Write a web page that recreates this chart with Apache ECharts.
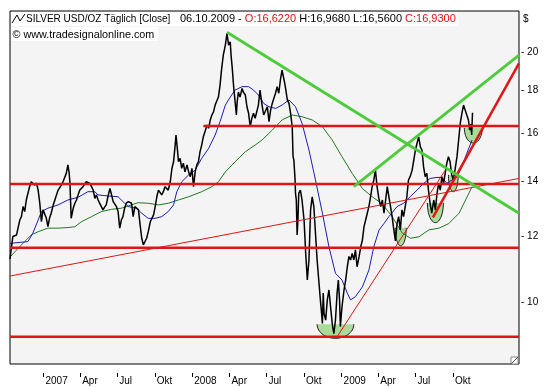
<!DOCTYPE html>
<html><head><meta charset="utf-8">
<script src="https://cdn.jsdelivr.net/npm/echarts@6/dist/echarts.min.js"></script>
<style>html,body{margin:0;padding:0;background:#fff}#c{width:544px;height:388px}</style>
</head><body><div id="c"></div>
<script>
// x values are days counted from 1 Jan 2007
const xTickDays = [0,90,181,273,365,456,547,639,731,821,912,1004];
const xTickLabels = ['2007','Apr','Jul','Okt','2008','Apr','Jul','Okt','2009','Apr','Jul','Okt'];
const yTicks = [10,12,14,16,18,20];
const xMin = -82, xMax = 1166;
const yMin = 8.417, yMax = 22.46;

const closeDays = [-82,-75,-66,-58,-54,-50,-46,-42,-38,-34,-30,-26,-21,-17,-13,-9,-5,-1,3,7,11,15,19,24,28,32,36,40,44,48,52,56,60,63,65,68,73,77,81,85,89,93,97,101,105,109,114,118,122,126,130,134,138,142,146,150,154,158,163,167,171,175,179,183,187,191,195,199,203,208,212,216,220,224,228,233,237,241,245,249,253,257,262,266,270,274,278,282,286,290,294,298,302,306,311,315,319,323,325,329,331,335,339,343,347,352,356,360,364,368,372,376,380,384,388,392,396,401,405,409,413,417,421,425,429,433,437,441,446,450,454,458,460,463,466,470,473,475,478,482,487,490,495,499,503,507,511,515,519,523,527,531,536,540,544,549,553,557,561,565,569,573,577,581,585,590,593,598,602,606,610,612,614,617,618,620,622,624,626,630,634,639,643,647,651,655,659,663,666,669,671,675,679,682,684,686,688,692,696,700,704,708,712,716,720,723,726,728,732,737,741,745,749,753,757,761,765,769,774,778,782,786,790,794,798,802,806,810,814,818,823,827,831,835,839,843,847,851,855,858,863,867,871,875,879,883,887,891,895,899,904,908,912,916,920,924,928,932,936,940,944,948,952,957,961,965,969,973,977,981,985,989,993,997,1001,1005,1009,1014,1018,1022,1026,1030,1034,1038,1042,1045,1048,1050,1052];
const closeValues = [11.27,12.0,12.05,12.56,12.68,13.04,12.86,13.28,13.53,13.78,13.97,14.04,13.84,13.92,13.65,13.17,12.50,12.92,12.99,12.63,12.33,12.63,12.80,13.10,13.28,13.47,13.65,13.71,13.84,13.97,14.04,14.30,14.64,14.32,13.92,12.62,12.98,13.16,13.28,13.47,13.65,13.59,13.78,13.84,13.97,14.04,13.91,13.84,13.65,13.34,13.47,13.28,13.34,13.04,12.92,13.02,13.10,13.40,13.71,13.47,13.22,13.28,13.04,12.86,12.28,12.56,12.68,12.98,13.16,13.22,13.28,13.16,12.68,13.04,12.99,12.92,12.39,11.94,11.72,11.77,11.94,12.16,12.50,12.62,12.74,13.04,13.40,13.65,13.71,13.47,13.59,13.78,13.84,13.65,13.97,14.50,14.77,15.47,15.91,15.19,14.77,14.91,14.50,14.71,14.36,14.64,14.36,14.17,14.50,13.78,14.36,14.64,14.77,15.19,15.47,15.83,16.05,16.36,16.21,16.59,16.82,16.97,17.29,17.37,17.68,18.28,19.15,19.87,20.43,21.11,20.43,20.62,19.87,19.15,18.28,17.44,16.82,17.44,17.93,17.68,18.11,17.93,17.78,17.21,16.90,16.28,16.67,16.90,16.67,16.97,17.29,18.03,17.29,16.82,16.90,17.21,16.51,17.05,17.37,17.62,17.87,18.20,17.87,18.54,19.06,18.54,18.20,17.54,17.37,16.90,16.28,14.98,14.84,14.04,13.53,13.28,12.05,12.56,13.53,13.65,13.28,12.56,11.45,10.63,11.24,12.92,13.40,13.04,12.33,11.66,11.24,10.63,10.06,9.69,9.42,10.25,9.69,9.51,10.06,10.34,9.87,9.42,9.16,9.51,10.25,10.63,10.06,9.34,9.87,10.34,10.63,11.03,11.35,11.24,11.45,11.24,11.56,11.03,11.35,11.66,11.88,12.33,12.56,12.80,13.04,13.40,13.78,14.04,14.43,13.78,13.28,13.04,13.28,12.80,13.28,13.78,13.40,13.04,12.68,12.33,11.85,12.44,12.68,12.22,12.92,12.68,13.04,13.40,14.04,14.17,14.43,14.84,15.26,15.55,15.83,15.40,15.26,14.57,14.17,14.30,13.65,13.16,12.80,13.28,12.92,13.53,13.91,13.65,14.17,13.91,14.30,14.71,14.98,14.77,14.24,14.04,14.43,14.98,15.69,16.44,16.90,17.29,17.05,16.82,16.59,16.13,16.40,15.91,16.93];

const avgFastDays = [-82,-38,-26,-13,-5,11,36,60,85,109,126,134,158,183,195,208,228,241,257,274,290,306,319,327,339,356,372,388,405,421,433,446,458,470,487,503,515,527,540,553,569,585,602,618,634,651,667,684,700,716,732,745,753,765,782,798,810,823,835,847,867,883,899,916,932,948,965,977,989,1002,1014,1026,1038,1051];
const avgFastValues = [11.77,11.83,12.11,12.56,12.86,12.98,13.10,13.28,13.38,13.59,13.59,13.47,13.43,13.40,13.22,13.04,12.98,12.80,12.62,12.62,12.68,12.86,13.10,13.59,13.97,14.24,14.43,14.91,15.33,15.91,16.51,17.29,17.68,18.03,18.20,18.20,18.03,17.78,17.37,17.21,17.13,17.29,17.54,17.21,16.44,15.26,14.04,12.80,11.66,10.83,10.63,10.25,10.06,10.15,10.43,10.93,11.66,12.22,12.44,12.68,13.04,13.16,13.40,13.65,13.91,14.10,14.14,14.14,13.91,14.04,14.17,14.57,15.12,15.69];

const avgSlowDays = [-82,-62,-46,-30,-13,11,36,60,77,93,118,142,167,191,216,232,257,282,306,331,356,388,413,429,446,470,495,519,536,561,585,610,634,659,684,708,732,757,782,806,823,839,855,880,900,921,945,970,994,1019,1035,1051];
const avgSlowValues = [11.33,11.61,11.83,12.05,12.16,12.28,12.28,12.30,12.33,12.50,12.68,12.86,12.94,12.98,13.10,13.18,13.16,13.10,13.16,13.28,13.40,13.59,13.78,13.97,14.36,14.77,15.19,15.47,15.69,16.13,16.59,16.82,16.74,16.59,16.28,15.69,14.98,14.30,13.71,13.40,13.22,12.98,12.68,12.11,11.94,11.99,12.22,12.28,12.44,12.80,13.28,13.78];

// horizontal support / resistance levels
const levelValues = [16.31, 13.88, 11.63, 9.08];
const levelStartDays = [392, -82, -82, -82];

// trend lines: [startDay, startValue, endDay, endValue]
const thinRedTrends = [[-82, 10.75, 1166, 14.10], [720, 9.08, 985, 14.42]];
const thickRedTrends = [[955, 12.65, 1166, 19.42]];
const greenTrends = [[450, 21.17, 1166, 12.80], [761, 13.78, 1166, 19.87]];

// highlighted lows: centre day, top value, bottom value, half width in days
const bowlCenters = [716, 876, 961, 1005, 1054];
const bowlTops = [9.40, 12.29, 13.17, 14.24, 16.22];
const bowlBottoms = [9.04, 11.69, 12.47, 13.59, 15.56];
const bowlHalfDays = [45, 13.5, 19.6, 12, 22];

const FONT = '"Liberation Sans", Arial, sans-serif';
const pairs = (d, v) => d.map((x, i) => [x, v[i]]);
function line(data, color, width, z) {
  return {type: 'line', data, showSymbol: false, symbol: 'none', silent: true,
    lineStyle: {color, width}, z, clip: true, animation: false};
}

const series = [];
series.push({
  type: 'custom', z: 1, silent: true, animation: false,
  data: bowlCenters.map((c, i) => [c, bowlTops[i], bowlBottoms[i], bowlHalfDays[i]]),
  renderItem: function (params, api) {
    const c = api.value(0), top = api.value(1), bot = api.value(2), hw = api.value(3);
    const L = api.coord([c - hw, top]), R = api.coord([c + hw, top]), B = api.coord([c, bot]);
    const cx = (L[0] + R[0]) / 2, rx = (R[0] - L[0]) / 2, cy = L[1], ry = B[1] - L[1];
    const pts = [];
    for (let k = 0; k <= 30; k++) {
      const a = Math.PI * k / 30;
      pts.push([cx + rx * Math.cos(a), cy + ry * Math.sin(a)]);
    }
    return {type: 'group', children: [
      {type: 'polygon', shape: {points: pts}, style: {fill: '#a9dc9a', stroke: null}},
      {type: 'polyline', shape: {points: pts}, style: {stroke: '#1a1a1a', lineWidth: 1, fill: null}}
    ]};
  }
});
series.push(line(pairs(avgSlowDays, avgSlowValues), '#1f7a1f', 1, 2));
series.push(line(pairs(avgFastDays, avgFastValues), '#1c1cb4', 1, 3));
series.push(line(pairs(closeDays, closeValues), '#000000', 1.5, 4));
levelValues.forEach((v, i) => series.push(line([[levelStartDays[i], v], [xMax, v]], '#e01515', 2.5, 6)));
thinRedTrends.forEach(t => series.push(line([[t[0], t[1]], [t[2], t[3]]], '#e01515', 1, 5)));
thickRedTrends.forEach(t => series.push(line([[t[0], t[1]], [t[2], t[3]]], '#e01515', 2.5, 6)));
greenTrends.forEach(t => series.push(line([[t[0], t[1]], [t[2], t[3]]], '#4ccc3a', 2.8, 7)));

const chart = echarts.init(document.getElementById('c'));
chart.setOption({
  animation: false,
  backgroundColor: '#ffffff',
  grid: {left: 10, right: 25, top: 11, bottom: 24, show: true, backgroundColor: '#f4f4f4', borderColor: '#000', borderWidth: 1},
  xAxis: {
    type: 'value', min: xMin, max: xMax, offset: 9,
    axisLine: {show: false}, splitLine: {show: false},
    axisTick: {show: true, length: 4, customValues: xTickDays, lineStyle: {color: '#000', width: 1}},
    axisLabel: {show: true, customValues: xTickDays, margin: 3, align: 'left', padding: [0, 0, 0, 2],
      color: '#000', fontSize: 10, fontFamily: FONT,
      formatter: v => xTickLabels[xTickDays.indexOf(v)] || ''}
  },
  yAxis: {
    type: 'log', position: 'right', min: yMin, max: yMax, offset: 0,
    axisLine: {show: false}, splitLine: {show: false},
    axisTick: {show: false},
    axisLabel: {show: true, customValues: yTicks, margin: 2, color: '#000', fontSize: 10, fontFamily: FONT,
      formatter: v => '- ' + Math.round(v)}
  },
  graphic: [
    {type: 'rect', shape: {x: 11, y: 12, width: 447, height: 14}, style: {fill: '#ffffff'}, z: 100},
    {type: 'rect', shape: {x: 11, y: 27, width: 147, height: 14}, style: {fill: '#ffffff'}, z: 100},
    {type: 'polyline', shape: {points: [[12, 23], [17, 15], [20, 21], [25, 14]]}, style: {stroke: '#000', lineWidth: 1, fill: null}, z: 101},
    {type: 'text', x: 26, y: 19, z: 101, style: {text: 'SILVER USD/OZ Täglich [Close]', font: '10px ' + FONT, fill: '#000', verticalAlign: 'middle'}},
    {type: 'text', x: 180, y: 19, z: 101, style: {text: '06.10.2009 - {r|O:16,6220} H:16,9680 L:16,5600 {r|C:16,9300}', font: '11px ' + FONT, fill: '#000', verticalAlign: 'middle',
      rich: {r: {fill: '#dd1111', font: '11px ' + FONT}}}},
    {type: 'text', x: 12.5, y: 35, z: 101, style: {text: '© www.tradesignalonline.com', font: '10.8px ' + FONT, fill: '#000', verticalAlign: 'middle'}},
    {type: 'text', x: 523, y: 19, z: 101, style: {text: '$', font: '10px ' + FONT, fill: '#000', verticalAlign: 'middle'}},
    {type: 'rect', shape: {x: 511, y: 357, width: 7, height: 7}, style: {fill: '#ffffff', stroke: '#888', lineWidth: 1}, z: 101},
    {type: 'line', shape: {x1: 511, y1: 364, x2: 518, y2: 357}, style: {stroke: '#555', lineWidth: 1}, z: 101}
  ],
  series: series
});
</script></body></html>
